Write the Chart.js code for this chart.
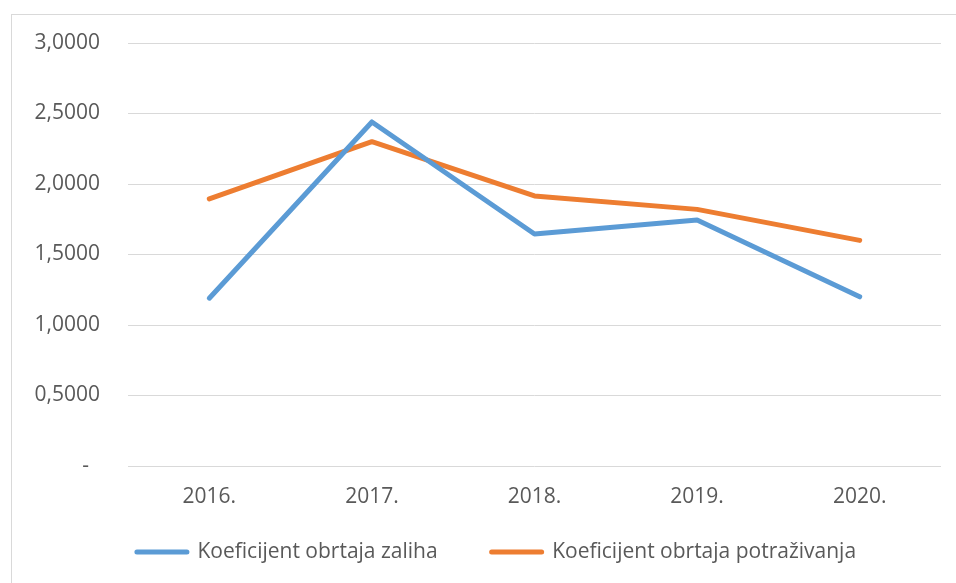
<!DOCTYPE html>
<html>
<head>
<meta charset="utf-8">
<script src="https://cdn.jsdelivr.net/npm/chart.js@4"></script>
<style>
  html, body { margin: 0; padding: 0; background: #ffffff; }
  #wrap { width: 956px; height: 583px; position: relative; }
</style>
</head>
<body>
<div id="wrap"><canvas id="turnoverChart"></canvas></div>
<script>
// values
const years = ['2016.', '2017.', '2018.', '2019.', '2020.'];
const inventoryTurnover = [1.19, 2.44, 1.645, 1.745, 1.20];
const receivablesTurnover = [1.895, 2.30, 1.915, 1.82, 1.60];
const seriesNames = ['Koeficijent obrtaja zaliha', 'Koeficijent obrtaja potraživanja'];

const textColor = '#595959';
const gridColor = '#d9d9d9';
const fontFamily = '"Open Sans", "Noto Sans", sans-serif';

// thin frame round the whole chart, as in the Excel export
const frame = {
  id: 'frame',
  beforeDraw(chart) {
    const ctx = chart.ctx;
    ctx.save();
    ctx.fillStyle = '#ffffff';
    ctx.fillRect(0, 0, chart.width, chart.height);
    ctx.strokeStyle = gridColor;
    ctx.lineWidth = 1;
    ctx.strokeRect(11.5, 14.5, 2000, 2000);
    ctx.restore();
  }
};

// the original legend sits on a wider chart box with wide item gaps:
// nudge it right and pull it up after layout
const legendShift = {
  id: 'legendShift',
  afterLayout(chart) {
    const lg = chart.legend;
    lg.left += 26;
    lg.right += 26;
    lg.top -= 20.5;
    lg.bottom -= 20.5;
  }
};

const formatTick = (v) => v === 0 ? '-  ' : v.toFixed(4).replace('.', ',');

const createTurnoverChart = () => {
  const canvas = document.getElementById('turnoverChart');
  new Chart(canvas.getContext('2d'), {
    type: 'line',
    data: {
      labels: years,
      datasets: [{
        label: seriesNames[0],
        data: inventoryTurnover,
        borderColor: '#5b9bd5',
        backgroundColor: '#5b9bd5',
        borderWidth: 5,
        borderCapStyle: 'round',
        borderJoinStyle: 'round',
        pointRadius: 0,
        tension: 0
      }, {
        label: seriesNames[1],
        data: receivablesTurnover,
        borderColor: '#ed7d31',
        backgroundColor: '#ed7d31',
        borderWidth: 5,
        borderCapStyle: 'round',
        borderJoinStyle: 'round',
        pointRadius: 0,
        tension: 0
      }]
    },
    options: {
      responsive: true,
      maintainAspectRatio: false,
      animation: false,
      layout: { padding: { left: 0, right: 15, top: 43, bottom: -10 } },
      scales: {
        x: {
          offset: true,
          grid: { display: false, drawTicks: false },
          border: { display: false },
          ticks: { color: textColor, font: { family: fontFamily, size: 21, lineHeight: 1 }, padding: 21, maxRotation: 0 },
          afterFit(scale) { scale.height = 42; }
        },
        y: {
          min: 0,
          max: 3,
          grid: { color: gridColor, lineWidth: 1, drawTicks: false },
          border: { display: false },
          ticks: {
            stepSize: 0.5,
            color: textColor,
            font: { family: fontFamily, size: 21 },
            padding: 28,
            callback: formatTick
          },
          afterFit(scale) { scale.width = 128; }
        }
      },
      plugins: {
        tooltip: { enabled: false },
        legend: {
          position: 'bottom',
          labels: {
            color: textColor,
            font: { family: fontFamily, size: 21 },
            usePointStyle: true,
            pointStyleWidth: 50,
            boxHeight: 5,
            padding: 54,
            generateLabels(chart) {
              return Chart.defaults.plugins.legend.labels.generateLabels(chart).map((item) => {
                const ds = chart.data.datasets[item.datasetIndex];
                return Object.assign(item, {
                  pointStyle: 'line',
                  lineWidth: 5,
                  lineCap: 'round',
                  strokeStyle: ds.borderColor,
                  fillStyle: ds.borderColor
                });
              });
            }
          }
        }
      }
    },
    plugins: [frame, legendShift]
  });
};

createTurnoverChart();
</script>
</body>
</html>
